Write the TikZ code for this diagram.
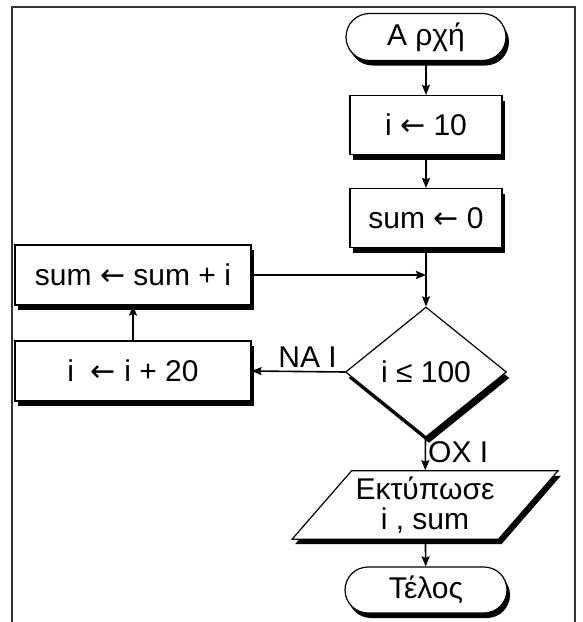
\documentclass[tikz,border=0pt]{standalone}
\usepackage{fontspec}
\setmainfont{Liberation Sans}
\newfontfamily\arrowfont{DejaVu Sans}
\newcommand{\lar}{{\arrowfont ←}}
\usetikzlibrary{shapes.geometric,shapes.misc,shadows,arrows.meta}

\tikzset{
	boxshadow/.style={drop shadow={shadow xshift=3pt,shadow yshift=-5pt,fill=black,opacity=1}},
	proc/.style={draw,fill=white,line width=1.2pt,boxshadow,inner sep=0pt},
	term/.style={draw,fill=white,rounded rectangle,line width=1.2pt,boxshadow,minimum width=160pt,minimum height=47pt,inner sep=0pt},
	decide/.style={draw,fill=white,diamond,line width=1.2pt,drop shadow={shadow xshift=3pt,shadow yshift=-6pt,fill=black,opacity=1},minimum width=161pt,minimum height=130pt,inner sep=0pt},
	io/.style={draw,fill=white,trapezium,trapezium left angle=49,trapezium right angle=131,line width=1.2pt,boxshadow,inner xsep=4pt,inner ysep=6pt,align=center},
	flow/.style={->,line width=1.6pt}
}

\begin{document}
\begin{tikzpicture}[x=1pt,y=-1pt,>={Stealth[length=10pt,width=8pt,inset=1.5pt]},font=\fontsize{30}{30}\selectfont]
	\useasboundingbox (0,0) rectangle (583,622);
	\draw[line width=1.5pt,black!80] (12,622) -- (12,7) -- (575,7) -- (575,622);
	% main column
	\node[term] (start) at (426,37) {Α ρχή};
	\node[proc,minimum width=152pt,minimum height=59pt] (ten) at (426,125) {i \lar\ 10};
	\node[proc,minimum width=152pt,minimum height=59pt] (zero) at (426,218) {sum \lar\ 0};
	\node[decide] (test) at (426,372) {i ≤ 100};
	\node[io] (print) at (425,505) {Εκτύπωσε\\i , sum};
	\node[term,minimum width=162pt,minimum height=46pt] (stop) at (426,590) {Τέλος};
	% loop body
	\node[proc,minimum width=236pt,minimum height=60pt] (add) at (133,275) {sum \lar\ sum + i};
	\node[proc,minimum width=236pt,minimum height=60pt] (inc) at (133,371) {i \ \lar\ i + 20};
	% connectors
	\draw[flow] (start) -- (ten);
	\draw[flow] (ten) -- (zero);
	\draw[flow] (zero) -- (test);
	\draw[flow] (add) -- (add -| test);
	\draw[flow] (test.west) -- (inc.east) node[pos=0.4,above,inner sep=3pt] (yes) {ΝΑ Ι};
	\draw[flow] (inc) -- (add);
	\draw[flow] (test) -- (print) node[pos=0.45,right,inner sep=2pt] (no) {ΟΧ Ι};
	\draw[flow] (print) -- (stop);
\end{tikzpicture}
\end{document}
